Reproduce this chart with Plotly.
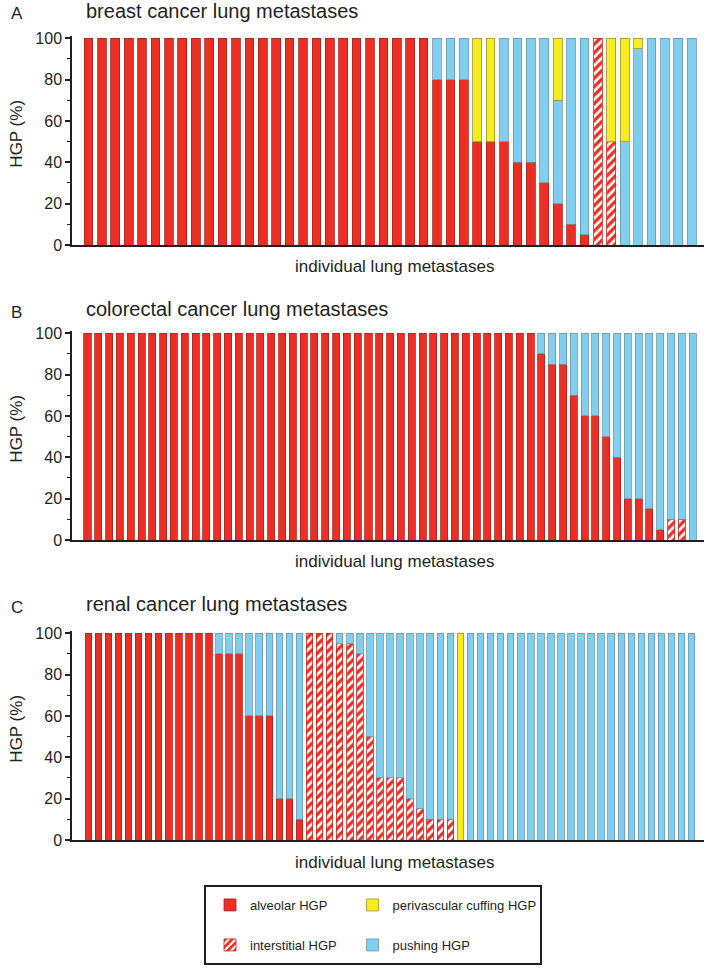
import plotly.graph_objects as go

W, H = 709, 968

# --- data (percent of each HGP per individual lung metastasis) ---
# A: breast cancer lung metastases, 46 lesions
breast_alveolar = [100] * 26 + [80, 80, 80, 50, 50, 50, 40, 40, 30, 20, 10, 5] + [0] * 8
breast_interstitial = [0] * 38 + [100, 50] + [0] * 6
breast_pushing = [0] * 26 + [20, 20, 20, 0, 0, 50, 60, 60, 70, 50, 90, 95, 0, 0, 50, 95, 100, 100, 100, 100]
breast_perivascular = [0] * 29 + [50, 50, 0, 0, 0, 0, 30, 0, 0, 0, 50, 50, 5] + [0] * 4

# B: colorectal cancer lung metastases, 57 lesions
colorectal_alveolar = [100] * 42 + [90, 85, 85, 70, 60, 60, 50, 40, 20, 20, 15, 5, 0, 0, 0]
colorectal_interstitial = [0] * 54 + [10, 10, 0]
colorectal_pushing = [0] * 42 + [10, 15, 15, 30, 40, 40, 50, 60, 80, 80, 85, 95, 90, 90, 100]
colorectal_perivascular = [0] * 57

# C: renal cancer lung metastases, 61 lesions
renal_alveolar = [100] * 13 + [90, 90, 90, 60, 60, 60, 20, 20, 10] + [0] * 39
renal_interstitial = [0] * 22 + [100, 100, 100, 95, 95, 90, 50, 30, 30, 30, 20, 15, 10, 10, 10] + [0] * 24
renal_pushing = [0] * 13 + [10, 10, 10, 40, 40, 40, 80, 80, 90, 0, 0, 0, 5, 5, 10, 50, 70, 70, 70, 80, 85,
                            90, 90, 90, 0] + [100] * 23
renal_perivascular = [0] * 37 + [100] + [0] * 23

panel_letters = ["A", "B", "C"]
panel_titles = [
    "breast cancer lung metastases",
    "colorectal cancer lung metastases",
    "renal cancer lung metastases",
]
hgp_names = ["alveolar HGP", "interstitial HGP", "pushing HGP", "perivascular cuffing HGP"]

RED = "#EC2E25"
BLUE = "#80CFF1"
YELLOW = "#F7EC1E"
INK = "#231F20"
FONT = "Arial, 'Liberation Sans', sans-serif"

styles = {
    "alveolar HGP": dict(color=RED, line=dict(color="#A8271F", width=0.8)),
    "interstitial HGP": dict(
        color=RED,
        pattern=dict(shape="/", fgcolor="white", fgopacity=1, size=6, solidity=0.45, fillmode="overlay"),
        line=dict(color="#C8291F", width=0.8),
    ),
    "pushing HGP": dict(color=BLUE, line=dict(color="#6E93A6", width=0.8)),
    "perivascular cuffing HGP": dict(color=YELLOW, line=dict(color="#9C9536", width=0.8)),
}

panel_data = [
    [breast_alveolar, breast_interstitial, breast_pushing, breast_perivascular],
    [colorectal_alveolar, colorectal_interstitial, colorectal_pushing, colorectal_perivascular],
    [renal_alveolar, renal_interstitial, renal_pushing, renal_perivascular],
]

# pixel geometry of each panel: top of 100, baseline 0, first & last bar centre
geom = [
    dict(top=38.3, bottom=245.0, first=88.5, last=691.7, head=17.5, foot=272),
    dict(top=333.3, bottom=540.0, first=87.5, last=692.7, head=316.0, foot=567),
    dict(top=633.3, bottom=840.0, first=88.3, last=691.7, head=611.0, foot=868),
]
AX_L, AX_R = 72.0, 704.0

legend_slots = {
    "alveolar HGP": ("legend", 210, 905),
    "perivascular cuffing HGP": ("legend2", 352.5, 905),
    "interstitial HGP": ("legend3", 210, 945),
    "pushing HGP": ("legend4", 352.5, 945),
}


def fx(px):
    return px / W


def fy(py):
    return 1 - py / H


fig = go.Figure()
annotations = []

for i, (series, g) in enumerate(zip(panel_data, geom)):
    xa = "x" if i == 0 else f"x{i + 1}"
    ya = "y" if i == 0 else f"y{i + 1}"
    n = len(series[0])
    xs = list(range(n))
    for name, vals in zip(hgp_names, series):
        fig.add_trace(
            go.Bar(
                x=xs,
                y=[v if v else None for v in vals],
                name=name,
                marker=styles[name],
                xaxis=xa,
                yaxis=ya,
                showlegend=(i == 0),
                legend=legend_slots[name][0],
                hoverinfo="skip",
            )
        )

    step = (g["last"] - g["first"]) / (n - 1)
    xr = [-(g["first"] - AX_L) / step, (n - 1) + (AX_R - g["last"]) / step]
    unit = (g["bottom"] - g["top"]) / 100.0
    top_px = g["top"] - 1.0 * unit

    key = "" if i == 0 else str(i + 1)
    fig.layout["xaxis" + key] = dict(
        domain=[fx(AX_L), fx(AX_R)],
        range=xr,
        anchor=ya,
        automargin=False,
        showline=True,
        linecolor=INK,
        linewidth=2,
        showticklabels=False,
        ticks="",
        showgrid=False,
        zeroline=False,
        fixedrange=True,
    )
    fig.layout["yaxis" + key] = dict(
        domain=[fy(g["bottom"]), fy(top_px)],
        range=[0, 101],
        anchor=xa,
        automargin=False,
        tickvals=[0, 20, 40, 60, 80, 100],
        ticks="outside",
        ticklen=5,
        tickwidth=1.5,
        tickcolor=INK,
        minor=dict(dtick=10, tick0=0, ticks="outside", ticklen=3, tickwidth=1.2, tickcolor=INK),
        showline=True,
        linecolor=INK,
        linewidth=1.5,
        showgrid=False,
        zeroline=False,
        tickfont=dict(size=16, color=INK, family=FONT),
        fixedrange=True,
    )

    annotations += [
        dict(text=panel_letters[i], x=fx(9), y=fy(g["head"] + 2 - 0.35 * 17), xanchor="left",
             yanchor="middle", font=dict(size=17, color=INK)),
        dict(text=panel_titles[i], x=fx(84), y=fy(g["head"] - 0.35 * 20), xanchor="left",
             yanchor="middle", font=dict(size=20, color=INK)),
        dict(text="individual lung metastases", x=fx(394), y=fy(g["foot"] - 0.35 * 17),
             xanchor="center", yanchor="middle", font=dict(size=17, color=INK)),
        dict(text="HGP (%)", x=fx(17), y=fy((g["top"] + g["bottom"]) / 2 - 8), textangle=-90,
             xanchor="center", yanchor="middle", font=dict(size=17, color=INK)),
    ]

for a in annotations:
    a.update(xref="paper", yref="paper", showarrow=False)

legends = {}
for name, (lg, lx, ly) in legend_slots.items():
    legends[lg] = dict(
        x=fx(lx),
        y=fy(ly),
        xanchor="left",
        yanchor="middle",
        orientation="h",
        bgcolor="rgba(0,0,0,0)",
        borderwidth=0,
        font=dict(size=13, color=INK, family=FONT),
    )

fig.update_layout(
    width=W,
    height=H,
    margin=dict(l=0, r=0, t=0, b=0, autoexpand=False),
    paper_bgcolor="white",
    plot_bgcolor="white",
    barmode="stack",
    bargap=0.35,
    font=dict(family=FONT, color=INK),
    annotations=annotations,
    shapes=[
        dict(type="rect", xref="paper", yref="paper", x0=fx(205), x1=fx(541), y0=fy(964), y1=fy(886),
             line=dict(color=INK, width=2), fillcolor="rgba(0,0,0,0)"),
    ],
    **legends,
)

# drop the browser's default 8px body margin so the figure sits at the page origin
fig.write_html(
    "out.html",
    config={"displayModeBar": False},
    post_script="document.body.style.margin = '0';",
)
